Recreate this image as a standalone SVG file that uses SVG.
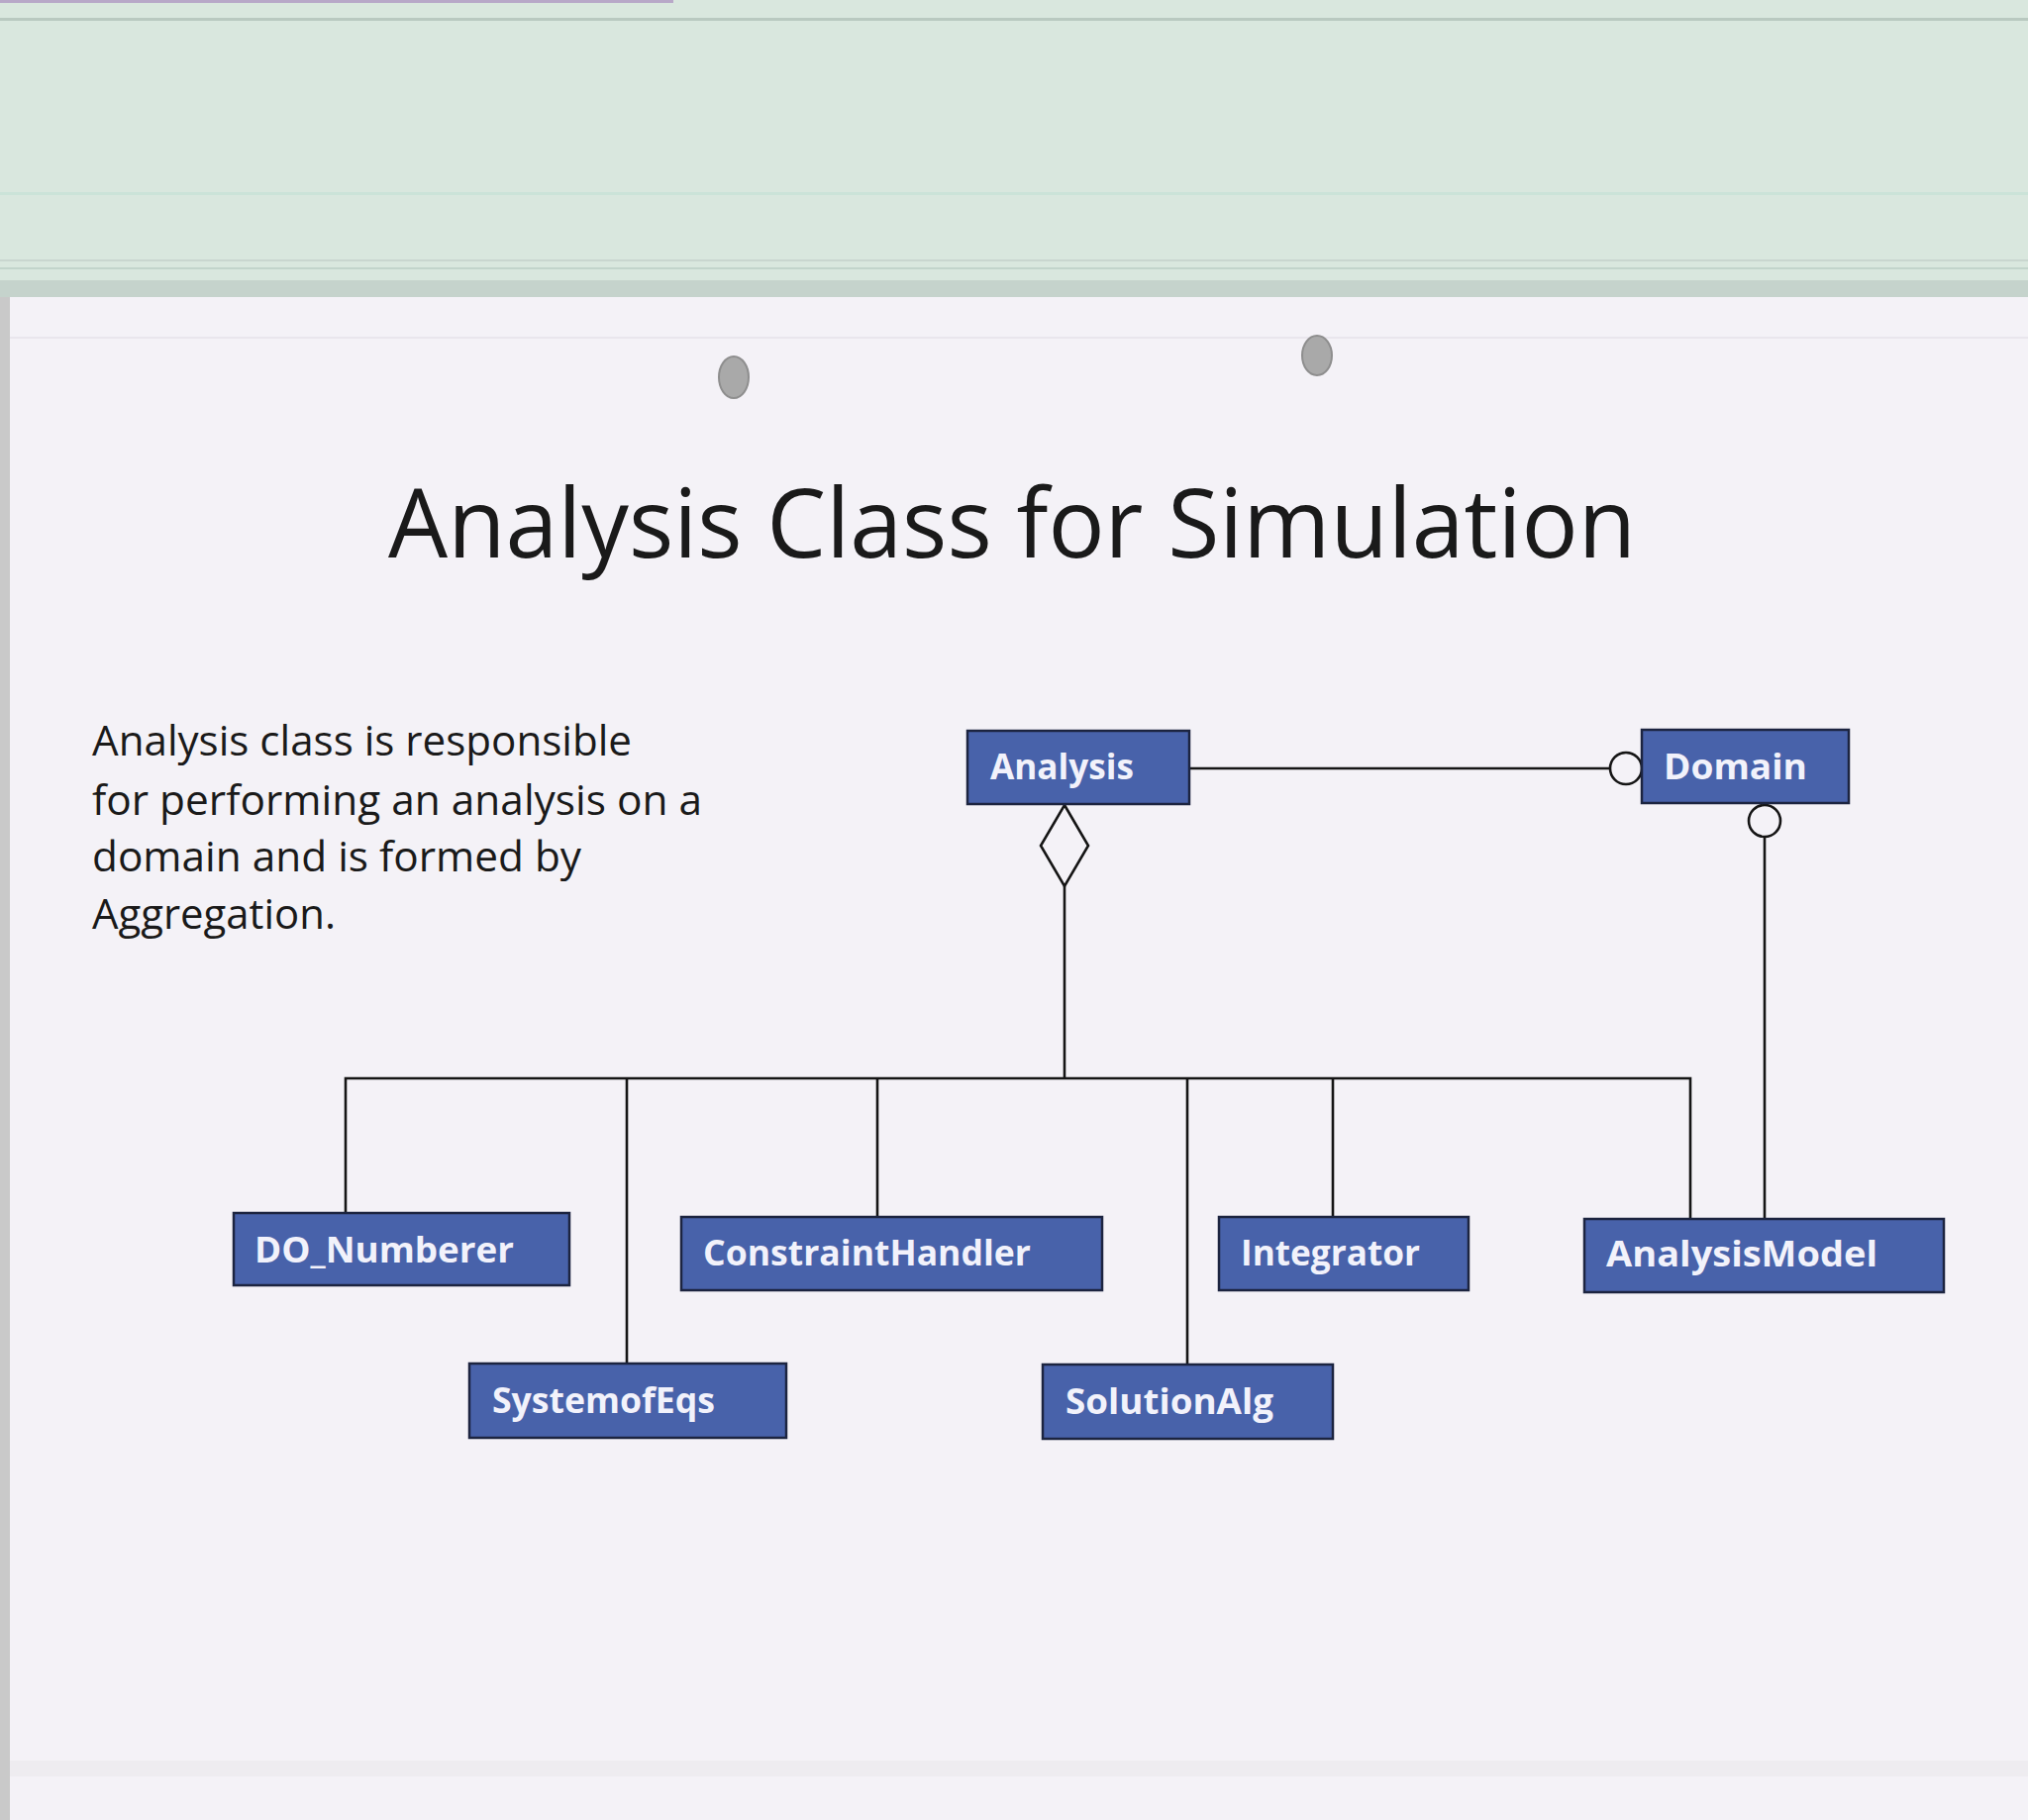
<svg xmlns="http://www.w3.org/2000/svg" width="2048" height="1838" viewBox="0 0 2048 1838">
<style>
.box{fill:#4862aa;stroke:#1c2440;stroke-width:2.5}
.lbl{font-family:"Open Sans","Noto Sans",sans-serif;font-weight:700;font-size:36px;fill:#f2f2fb}
.ln{stroke:#151515;stroke-width:2.6;fill:none}
.body{font-family:"Open Sans","Noto Sans",sans-serif;font-size:42px;fill:#1a1a1a}
</style>
<rect x="0" y="0" width="2048" height="1838" fill="#f4f2f7"/>
<rect x="0" y="0" width="2048" height="300" fill="#d9e7de"/>
<rect x="0" y="0" width="680" height="3" fill="#b8a8c8"/>
<rect x="0" y="18" width="2048" height="3" fill="#b9c9c0"/>
<rect x="0" y="194" width="2048" height="3" fill="#cbe3d8"/>
<rect x="0" y="262" width="2048" height="2" fill="#c9d6cf"/>
<rect x="0" y="270" width="2048" height="2" fill="#c2d4cb"/>
<rect x="0" y="283" width="2048" height="17" fill="#c5d3cc"/>
<rect x="0" y="300" width="10" height="1538" fill="#c9c9c9"/>
<rect x="10" y="340" width="2038" height="2" fill="#e9e6ed"/>
<rect x="10" y="1778" width="2038" height="16" fill="#eeecf0"/>
<ellipse cx="741" cy="381" rx="15" ry="21" fill="#a9a9a9" stroke="#8e8e8e" stroke-width="2"/>
<ellipse cx="1330" cy="359" rx="15" ry="20" fill="#a9a9a9" stroke="#8e8e8e" stroke-width="2"/>
<text x="392" y="563" font-family="'Open Sans','Noto Sans',sans-serif" font-size="97" fill="#1a1a1a" textLength="1260" lengthAdjust="spacingAndGlyphs">Analysis Class for Simulation</text>
<g id="description">
<text class="body" x="93" y="763" textLength="545" lengthAdjust="spacingAndGlyphs">Analysis class is responsible</text>
<text class="body" x="93" y="823" textLength="616" lengthAdjust="spacingAndGlyphs">for performing an analysis on a</text>
<text class="body" x="93" y="880" textLength="494" lengthAdjust="spacingAndGlyphs">domain and is formed by</text>
<text class="body" x="93" y="938" textLength="246" lengthAdjust="spacingAndGlyphs">Aggregation.</text>
</g>
<g id="connectors">
<line class="ln" x1="1201" y1="776" x2="1626" y2="776"/>
<circle class="ln" cx="1642" cy="776" r="16" fill="#f4f2f7"/>
<circle class="ln" cx="1782" cy="829" r="16" fill="#f4f2f7"/>
<line class="ln" x1="1782" y1="845" x2="1782" y2="1231"/>
<polygon class="ln" points="1075,813 1099,854 1075,895 1051,854" fill="#f4f2f7"/>
<line class="ln" x1="1075" y1="895" x2="1075" y2="1089"/>
<polyline class="ln" points="349,1225 349,1089 1707,1089 1707,1231"/>
<line class="ln" x1="633" y1="1089" x2="633" y2="1377"/>
<line class="ln" x1="886" y1="1089" x2="886" y2="1229"/>
<line class="ln" x1="1199" y1="1089" x2="1199" y2="1378"/>
<line class="ln" x1="1346" y1="1089" x2="1346" y2="1229"/>
</g>
<g id="node-analysis">
<rect class="box" x="977" y="738" width="224" height="74"/>
<text class="lbl" x="1000" y="787" textLength="145" lengthAdjust="spacingAndGlyphs">Analysis</text>
</g>
<g id="node-domain">
<rect class="box" x="1658" y="737" width="209" height="74"/>
<text class="lbl" x="1680" y="787" textLength="145" lengthAdjust="spacingAndGlyphs">Domain</text>
</g>
<g id="node-do-numberer">
<rect class="box" x="236" y="1225" width="339" height="73"/>
<text class="lbl" x="257" y="1275" textLength="262" lengthAdjust="spacingAndGlyphs">DO_Numberer</text>
</g>
<g id="node-constrainthandler">
<rect class="box" x="688" y="1229" width="425" height="74"/>
<text class="lbl" x="710" y="1278" textLength="331" lengthAdjust="spacingAndGlyphs">ConstraintHandler</text>
</g>
<g id="node-integrator">
<rect class="box" x="1231" y="1229" width="252" height="74"/>
<text class="lbl" x="1253" y="1278" textLength="181" lengthAdjust="spacingAndGlyphs">Integrator</text>
</g>
<g id="node-analysismodel">
<rect class="box" x="1600" y="1231" width="363" height="74"/>
<text class="lbl" x="1622" y="1279" textLength="274" lengthAdjust="spacingAndGlyphs">AnalysisModel</text>
</g>
<g id="node-systemofeqs">
<rect class="box" x="474" y="1377" width="320" height="75"/>
<text class="lbl" x="497" y="1427" textLength="225" lengthAdjust="spacingAndGlyphs">SystemofEqs</text>
</g>
<g id="node-solutionalg">
<rect class="box" x="1053" y="1378" width="293" height="75"/>
<text class="lbl" x="1076" y="1428" textLength="210" lengthAdjust="spacingAndGlyphs">SolutionAlg</text>
</g>
</svg>
